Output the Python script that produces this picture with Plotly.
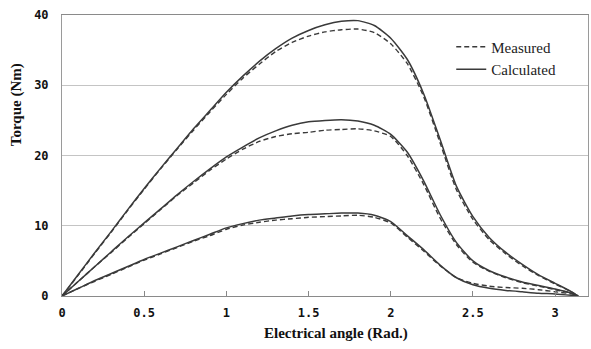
import plotly.graph_objects as go

# Electrical angle samples (rad), 0 .. pi
angle = [0.0, 0.1, 0.2, 0.3, 0.4, 0.5, 0.6, 0.7, 0.8, 0.9, 1.0, 1.1, 1.2, 1.3,
         1.4, 1.5, 1.6, 1.7, 1.8, 1.9, 2.0, 2.1, 2.2, 2.3, 2.4, 2.5, 2.6, 2.7,
         2.8, 2.9, 3.0, 3.1, 3.14]

# Calculated torque (Nm) for the three current levels
calc_high = [0, 3.1, 6.2, 9.2, 12.3, 15.3, 18.2, 21.0, 23.8, 26.4, 29.0, 31.3, 33.4, 35.2,
             36.7, 37.8, 38.6, 39.1, 39.2, 38.5, 36.7, 33.7, 28.8, 22.3, 15.6, 11.3, 8.3, 6.2,
             4.5, 3.0, 1.8, 0.6, 0]
calc_mid = [0, 2.1, 4.2, 6.3, 8.4, 10.4, 12.4, 14.4, 16.3, 18.1, 19.8, 21.2, 22.5, 23.5,
            24.3, 24.8, 25.0, 25.1, 24.9, 24.3, 23.0, 20.5, 16.4, 11.6, 7.6, 5.0, 3.6, 2.7,
            2.0, 1.5, 1.0, 0.4, 0]
calc_low = [0, 1.1, 2.2, 3.2, 4.2, 5.2, 6.1, 7.0, 7.9, 8.8, 9.7, 10.3, 10.8, 11.1,
            11.4, 11.6, 11.7, 11.8, 11.8, 11.5, 10.6, 8.6, 6.6, 4.4, 2.6, 1.6, 1.1, 0.8,
            0.6, 0.4, 0.3, 0.1, 0]

# Measured torque (Nm)
meas_high = [0, 3.0, 6.1, 9.1, 12.2, 15.2, 18.1, 20.9, 23.6, 26.2, 28.7, 31.0, 33.0, 34.8,
             36.1, 37.0, 37.6, 37.9, 38.0, 37.5, 35.9, 33.1, 28.4, 21.8, 15.1, 10.9, 8.0, 6.0,
             4.3, 2.9, 1.7, 0.6, 0]
meas_mid = [0, 2.1, 4.2, 6.2, 8.3, 10.3, 12.3, 14.3, 16.1, 17.9, 19.5, 20.9, 22.0, 22.7,
            23.1, 23.3, 23.6, 23.7, 23.8, 23.5, 22.7, 20.0, 15.9, 11.1, 7.3, 4.8, 3.5, 2.6,
            1.9, 1.4, 0.9, 0.4, 0]
meas_low = [0, 1.1, 2.1, 3.1, 4.1, 5.1, 6.0, 6.9, 7.8, 8.6, 9.5, 10.1, 10.5, 10.8,
            11.0, 11.2, 11.3, 11.4, 11.5, 11.2, 10.4, 8.4, 6.4, 4.3, 2.6, 1.8, 1.4, 1.2,
            1.1, 0.9, 0.6, 0.3, 0]

x_ticks = [0, 0.5, 1, 1.5, 2, 2.5, 3]
x_tick_text = ["0", "0.5", "1", "1.5", "2", "2.5", "3"]
y_ticks = [0, 10, 20, 30, 40]
y_tick_text = ["0", "10", "20", "30", "40"]

LINE = "#3a3a3a"
fig = go.Figure()

for i, series in enumerate([meas_high, meas_mid, meas_low]):
    fig.add_trace(go.Scatter(
        x=angle, y=series, mode="lines", name="Measured",
        legendgroup="meas", showlegend=(i == 0),
        line=dict(color=LINE, width=1.4, dash="5px,3px", shape="spline", smoothing=0.6),
    ))
for i, series in enumerate([calc_high, calc_mid, calc_low]):
    fig.add_trace(go.Scatter(
        x=angle, y=series, mode="lines", name="Calculated",
        legendgroup="calc", showlegend=(i == 0),
        line=dict(color=LINE, width=1.5, shape="spline", smoothing=0.6),
    ))

tick_font = dict(family="DejaVu Sans Mono", size=12, color="#111", weight="bold")
title_font = dict(family="Liberation Serif", size=15, color="#111", weight="bold")

fig.update_layout(
    width=591, height=349,
    margin=dict(l=62, r=3, t=15, b=53),
    paper_bgcolor="white", plot_bgcolor="white",
    showlegend=True,
    legend=dict(
        x=0.74, y=0.945, xanchor="left", yanchor="top",
        bgcolor="rgba(0,0,0,0)", borderwidth=0,
        font=dict(family="Liberation Serif", size=15, color="#222"),
        tracegroupgap=0, itemwidth=30,
    ),
    xaxis=dict(
        range=[0, 3.2], tickvals=x_ticks, ticktext=x_tick_text,
        ticks="inside", ticklen=5, tickcolor="#888", tickwidth=1,
        showgrid=False, zeroline=False,
        showline=True, linecolor="#8a8a8a", linewidth=1, mirror=True,
        tickfont=tick_font, ticklabelstandoff=6,
    ),
    yaxis=dict(
        range=[0, 40], tickvals=y_ticks, ticktext=y_tick_text,
        ticks="", showgrid=True, gridcolor="#c4c4c4", gridwidth=1,
        zeroline=False,
        showline=True, linecolor="#9a9a9a", linewidth=1, mirror=True,
        tickfont=tick_font, ticklabelstandoff=10,
    ),
    annotations=[
        dict(text="Torque (Nm)", xref="paper", yref="paper",
             x=-0.085, y=0.68, xanchor="center", yanchor="middle",
             textangle=-90, showarrow=False, font=title_font),
        dict(text="Electrical angle (Rad.)", xref="paper", yref="paper",
             x=0.52, y=-0.095, xanchor="center", yanchor="top",
             showarrow=False, font=title_font),
    ],
)

fig.write_html("out.html")
